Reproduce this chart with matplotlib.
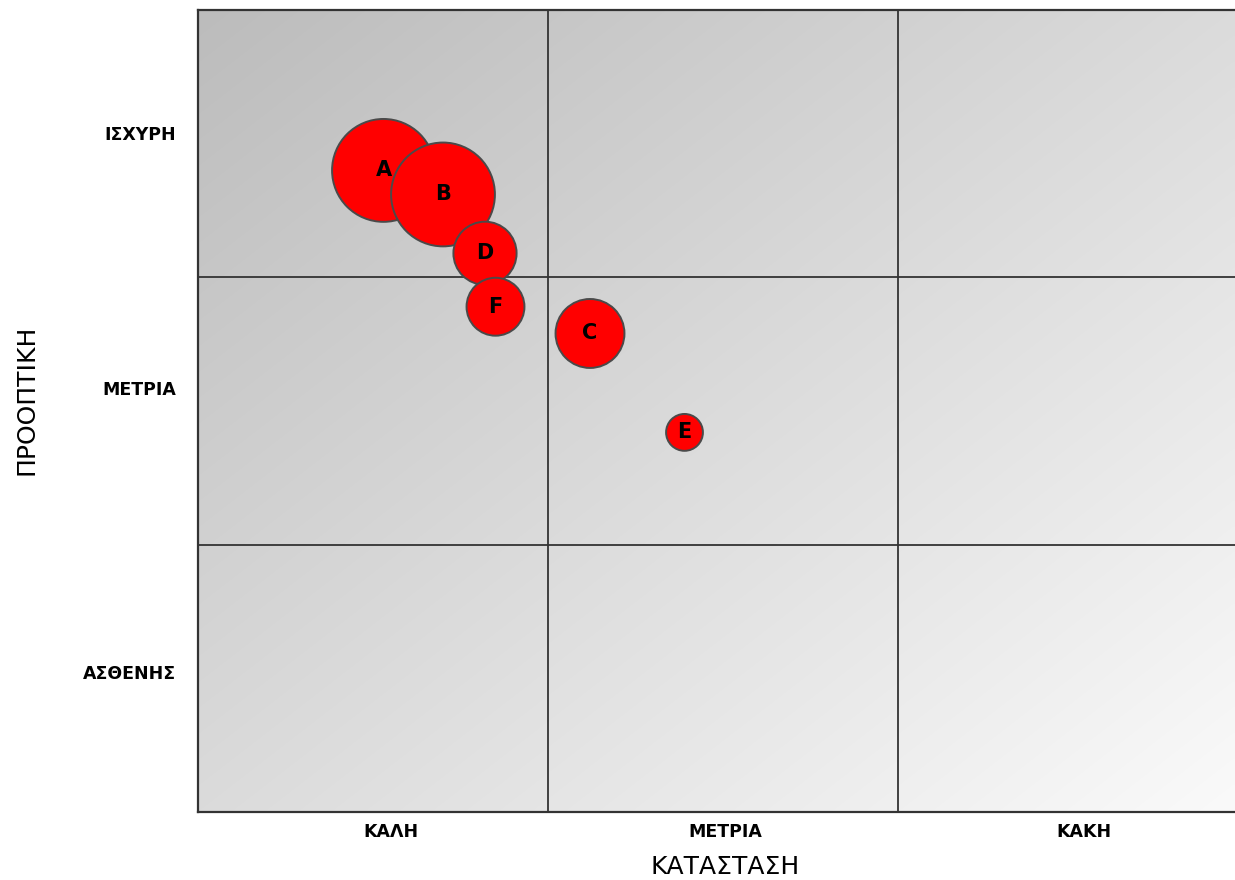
import numpy as np
import matplotlib.pyplot as plt

# ----------------------------
# Data (bubble matrix)
# ----------------------------
labels = ["A", "B", "C", "D", "E", "F"]
katastasi = [0.53, 0.70, 1.12, 0.82, 1.39, 0.85]   # x: ΚΑΤΑΣΤΑΣΗ
prooptiki = [2.40, 2.31, 1.79, 2.09, 1.42, 1.89]   # y: ΠΡΟΟΠΤΙΚΗ
megethos = [26.5, 27.0, 11.9, 10.0, 3.4, 8.4]      # bubble size

x_cats = ["ΚΑΛΗ", "ΜΕΤΡΙΑ", "ΚΑΚΗ"]
y_cats = ["ΑΣΘΕΝΗΣ", "ΜΕΤΡΙΑ", "ΙΣΧΥΡΗ"]

plt.rcParams["font.family"] = ["DejaVu Sans"]

W, H = 1235, 880
fig = plt.figure(figsize=(W / 100, H / 100), dpi=100)
ax = fig.add_axes([198 / W, 68 / H, 1 - 198 / W, 802 / H])

x_max = 1037 / 350

# diagonal grey gradient background (dark top-left -> light bottom-right)
u = np.linspace(0, 1, 300)[None, :]
v = np.linspace(0, 1, 300)[:, None]
g = (188 + 62 * (u + v) / 2) / 255
bg = np.dstack([g, g, g])
ax.imshow(bg, extent=[0, x_max, 0, 3], origin="upper", aspect="auto",
          zorder=0, interpolation="bilinear")
ax.set_xlim(0, x_max)
ax.set_ylim(0, 3)

for k in (1, 2):
    ax.axvline(k, color="#333333", lw=1.3, zorder=1)
    ax.axhline(k, color="#333333", lw=1.3, zorder=1)

ax.scatter(katastasi, prooptiki, s=np.array(megethos) * 207,
           color="#ff0000", edgecolor="#4a4a4a", linewidth=1.4, zorder=3)
for lab, x, y in zip(labels, katastasi, prooptiki):
    ax.text(x, y, lab, ha="center", va="center", fontsize=15,
            fontweight="bold", color="black", zorder=4)

ax.set_xticks([0.55, 1.506, 2.53], x_cats)
ax.set_yticks([0.523, 1.586, 2.54], y_cats)
ax.tick_params(axis="both", length=0, labelsize=12.5)
ax.tick_params(axis="x", pad=8)
ax.tick_params(axis="y", pad=16)
for t in ax.get_xticklabels() + ax.get_yticklabels():
    t.set_fontweight("bold")

for s in ("left", "top", "bottom"):
    ax.spines[s].set_color("#333333")
    ax.spines[s].set_linewidth(1.6)
ax.spines["right"].set_visible(False)

fig.text(725 / W, 1 - 867 / H, "ΚΑΤΑΣΤΑΣΗ", ha="center", va="center",
         fontsize=18)
fig.text(27 / W, 1 - 400 / H, "ΠΡΟΟΠΤΙΚΗ", ha="center", va="center",
         rotation=90, fontsize=18)

fig.savefig("out.png", dpi=100)
